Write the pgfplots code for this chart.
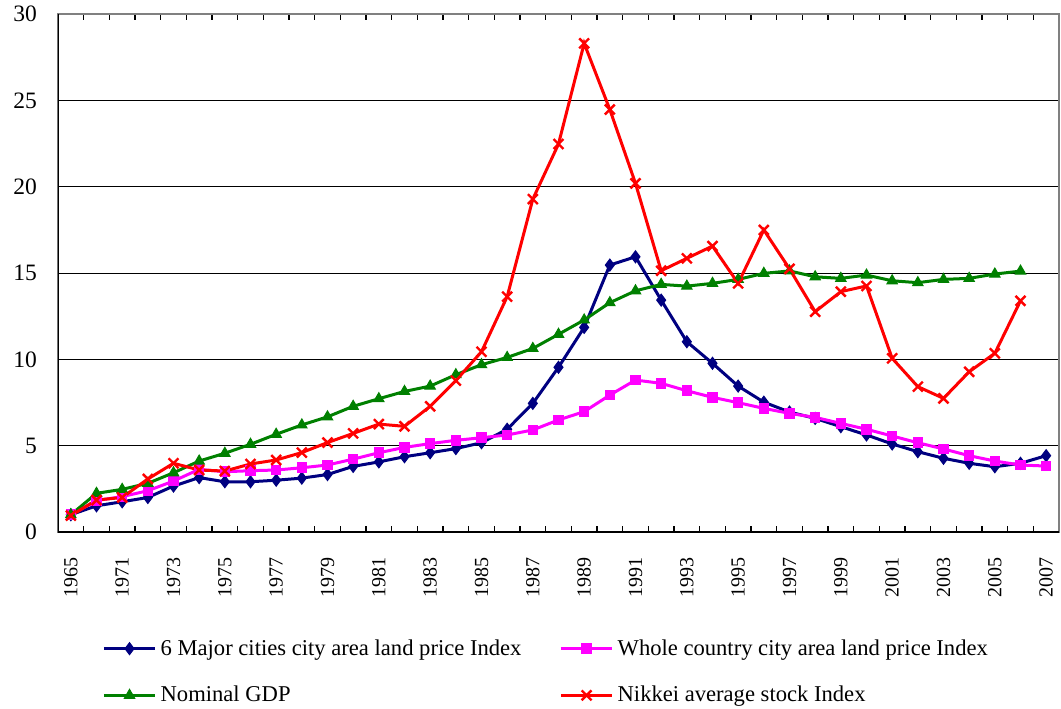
\documentclass[border=0pt]{standalone}
\usepackage{fontspec}
\setmainfont{Liberation Serif}
\usepackage{pgfplots}
\pgfplotsset{compat=1.18}
\definecolor{cnavy}{RGB}{0,0,128}
\definecolor{cmag}{RGB}{255,0,255}
\definecolor{cgreen}{RGB}{0,128,0}
\definecolor{cred}{RGB}{255,0,0}
\begin{document}
\begin{tikzpicture}
\begin{axis}[
  scale only axis,
  width=500.5pt, height=259pt,
  xmin=-0.5, xmax=38.5, ymin=0, ymax=30,
  ytick={0,5,...,30},
  ymajorgrids, grid style={black, line width=0.5pt},
  major y tick style={draw=none},
  xtick={0,2,...,38},
  xticklabels={1965,1971,1973,1975,1977,1979,1981,1983,1985,1987,1989,1991,1993,1995,1997,1999,2001,2003,2005,2007},
  major x tick style={draw=none},
  minor xtick={-0.5,0.5,...,38.5},
  minor tick length=3pt,
  minor x tick style={black, line width=0.6pt},
  tick align=inside,
  axis line style={draw=gray, line width=1pt},
  /pgf/number format/assume math mode=true,
  yticklabel style={font=\fontsize{11.75}{13}\selectfont, xshift=-7pt},
  xticklabel style={font=\fontsize{10}{11}\selectfont, rotate=90, anchor=east, xshift=-9pt},
  legend columns=2,
  legend style={at={(axis description cs:0.038,-0.191)}, anchor=north west, draw=none,
    font=\fontsize{11.3}{13}\selectfont, row sep=10pt,
    /tikz/every even column/.append style={column sep=17pt}},
  legend cell align=left,
  legend image code/.code={\draw[mark repeat=2,mark phase=2] plot coordinates {(0cm,0cm) (0.45cm,0cm) (0.9cm,0cm)};},
]
\addplot[cnavy, line width=1.5pt, mark=diamond*, mark size=3pt, mark options={fill=cnavy, line width=0.5pt}] coordinates {
(0,1.0)(1,1.52)(2,1.75)(3,2.0)(4,2.66)(5,3.15)(6,2.91)(7,2.91)(8,3.0)(9,3.12)
(10,3.33)(11,3.8)(12,4.06)(13,4.36)(14,4.59)(15,4.83)(16,5.17)(17,5.95)(18,7.45)(19,9.54)
(20,11.85)(21,15.46)(22,15.94)(23,13.43)(24,11.02)(25,9.77)(26,8.45)(27,7.52)(28,6.95)(29,6.58)
(30,6.10)(31,5.62)(32,5.10)(33,4.65)(34,4.27)(35,3.98)(36,3.78)(37,3.98)(38,4.42)};
\addlegendentry{6 Major cities city area land price Index}
\addplot[cmag, line width=1.5pt, mark=square*, mark size=2.4pt, mark options={fill=cmag, line width=0.5pt}] coordinates {
(0,1.0)(1,1.82)(2,2.05)(3,2.39)(4,2.95)(5,3.63)(6,3.49)(7,3.55)(8,3.59)(9,3.72)
(10,3.88)(11,4.22)(12,4.59)(13,4.90)(14,5.12)(15,5.31)(16,5.46)(17,5.62)(18,5.91)(19,6.49)
(20,6.97)(21,7.93)(22,8.80)(23,8.61)(24,8.18)(25,7.80)(26,7.49)(27,7.16)(28,6.87)(29,6.64)
(30,6.29)(31,5.95)(32,5.56)(33,5.17)(34,4.81)(35,4.42)(36,4.11)(37,3.88)(38,3.82)};
\addlegendentry{Whole country city area land price Index}
\addplot[cgreen, line width=1.5pt, mark=triangle*, mark size=3pt, mark options={fill=cgreen, line width=0.5pt}] coordinates {
(0,1.0)(1,2.24)(2,2.47)(3,2.82)(4,3.43)(5,4.11)(6,4.56)(7,5.08)(8,5.66)(9,6.20)
(10,6.67)(11,7.28)(12,7.72)(13,8.14)(14,8.45)(15,9.11)(16,9.69)(17,10.11)(18,10.63)(19,11.45)
(20,12.28)(21,13.28)(22,13.97)(23,14.34)(24,14.24)(25,14.40)(26,14.63)(27,14.98)(28,15.12)(29,14.78)
(30,14.69)(31,14.88)(32,14.55)(33,14.44)(34,14.63)(35,14.69)(36,14.94)(37,15.11)};
\addlegendentry{Nominal GDP}
\addplot[cred, line width=1.5pt, mark=x, mark size=3.5pt, mark options={line width=1.2pt}] coordinates {
(0,0.95)(1,1.85)(2,2.0)(3,3.07)(4,3.98)(5,3.59)(6,3.53)(7,3.94)(8,4.17)(9,4.60)
(10,5.18)(11,5.71)(12,6.25)(13,6.12)(14,7.28)(15,8.77)(16,10.44)(17,13.63)(18,19.28)(19,22.47)
(20,28.30)(21,24.47)(22,20.19)(23,15.13)(24,15.85)(25,16.56)(26,14.40)(27,17.49)(28,15.24)(29,12.76)
(30,13.92)(31,14.25)(32,10.06)(33,8.42)(34,7.74)(35,9.28)(36,10.35)(37,13.39)};
\addlegendentry{Nikkei average stock Index}
\draw[black, line width=1pt] (rel axis cs:0,1) -- (rel axis cs:0,0) -- (rel axis cs:1,0);
\coordinate (sw) at (rel axis cs:0,0);
\end{axis}
\pgfresetboundingbox
\path ([shift={(-29pt,-88pt)}]sw) rectangle ++(530.5pt,354pt);
\end{tikzpicture}
\end{document}
